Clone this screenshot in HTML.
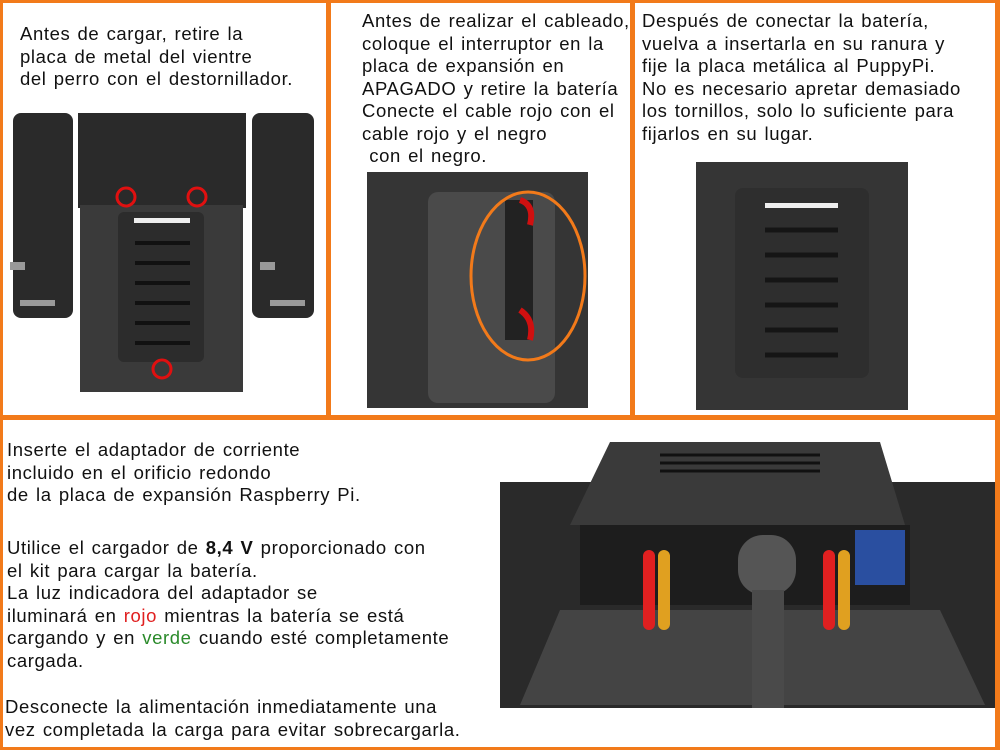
<!DOCTYPE html>
<html><head><meta charset="utf-8"><style>
*{margin:0;padding:0;box-sizing:border-box}
body{width:1000px;height:750px;background:#fff;position:relative;overflow:hidden;font-family:"Liberation Sans",sans-serif;color:#111}
.ln{position:absolute;background:#f27a1a}
.t{position:absolute;font-size:18.5px;line-height:22.5px;white-space:nowrap;letter-spacing:0.6px;word-spacing:1.5px}
</style></head><body>
<div class="ln" style="left:0;top:0;width:1000px;height:3px"></div>
<div class="ln" style="left:0;top:747px;width:1000px;height:3px"></div>
<div class="ln" style="left:0;top:0;width:3px;height:750px"></div>
<div class="ln" style="left:995px;top:0;width:5px;height:750px"></div>
<div class="ln" style="left:0;top:415px;width:1000px;height:5px"></div>
<div class="ln" style="left:326px;top:0;width:5px;height:418px"></div>
<div class="ln" style="left:630px;top:0;width:5px;height:418px"></div>

<div class="t" style="left:20px;top:23px">Antes de cargar, retire la<br>placa de metal del vientre<br>del perro con el destornillador.</div>
<div class="t" style="left:362px;top:10px">Antes de realizar el cableado,<br>coloque el interruptor en la<br>placa de expansión en<br>APAGADO y retire la batería<br>Conecte el cable rojo con el<br>cable rojo y el negro<br>&nbsp;con el negro.</div>
<div class="t" style="left:642px;top:10px">Después de conectar la batería,<br>vuelva a insertarla en su ranura y<br>fije la placa metálica al PuppyPi.<br>No es necesario apretar demasiado<br>los tornillos, solo lo suficiente para<br>fijarlos en su lugar.</div>
<div class="t" style="left:7px;top:439px">Inserte el adaptador de corriente<br>incluido en el orificio redondo<br>de la placa de expansión Raspberry Pi.</div>
<div class="t" style="left:7px;top:537px">Utilice el cargador de <b>8,4 V</b> proporcionado con<br>el kit para cargar la batería.<br>La luz indicadora del adaptador se<br>iluminará en <span style="color:#e02020">rojo</span> mientras la batería se está<br>cargando y en <span style="color:#2a8a2a">verde</span> cuando esté completamente<br>cargada.</div>
<div class="t" style="left:5px;top:696px">Desconecte la alimentación inmediatamente una<br>vez completada la carga para evitar sobrecargarla.</div>

<svg style="position:absolute;left:0;top:0" width="1000" height="750">
<g fill="#2a2a2a">
<rect x="13" y="113" width="60" height="205" rx="8"/>
<rect x="252" y="113" width="62" height="205" rx="8"/>
<rect x="78" y="113" width="168" height="95"/>
<rect x="80" y="205" width="163" height="187" fill="#3a3a3a"/>
<rect x="118" y="212" width="86" height="150" rx="6" fill="#2c2c2c"/>
</g>
<g fill="none" stroke="#111" stroke-width="4">
<line x1="135" y1="243" x2="190" y2="243"/><line x1="135" y1="263" x2="190" y2="263"/><line x1="135" y1="283" x2="190" y2="283"/><line x1="135" y1="303" x2="190" y2="303"/><line x1="135" y1="323" x2="190" y2="323"/><line x1="135" y1="343" x2="190" y2="343"/>
</g>
<rect x="134" y="218" width="56" height="5" fill="#eee"/>
<g fill="none" stroke="#e01010" stroke-width="3"><circle cx="126" cy="197" r="9"/><circle cx="197" cy="197" r="9"/><circle cx="162" cy="369" r="9"/></g>
<g fill="#999"><rect x="10" y="262" width="15" height="8"/><rect x="260" y="262" width="15" height="8"/><rect x="20" y="300" width="35" height="6"/><rect x="270" y="300" width="35" height="6"/></g>
<rect x="367" y="172" width="221" height="236" fill="#353535"/>
<rect x="428" y="192" width="127" height="211" rx="10" fill="#4a4a4a"/>
<rect x="505" y="200" width="28" height="140" fill="#222"/>
<path d="M520 200 q15 5 10 25 M520 310 q15 10 10 30" stroke="#d01010" stroke-width="6" fill="none"/>
<ellipse cx="528" cy="276" rx="57" ry="84" fill="none" stroke="#f27a1a" stroke-width="3"/>
<rect x="696" y="162" width="212" height="248" fill="#353535"/>
<rect x="735" y="188" width="134" height="190" rx="8" fill="#2e2e2e"/>
<rect x="765" y="203" width="73" height="5" fill="#eee"/>
<g stroke="#151515" stroke-width="5"><line x1="765" y1="230" x2="838" y2="230"/><line x1="765" y1="255" x2="838" y2="255"/><line x1="765" y1="280" x2="838" y2="280"/><line x1="765" y1="305" x2="838" y2="305"/><line x1="765" y1="330" x2="838" y2="330"/><line x1="765" y1="355" x2="838" y2="355"/></g>
<rect x="500" y="482" width="495" height="226" fill="#2a2a2a"/>
<path d="M610 442 L880 442 L905 525 L570 525 Z" fill="#3a3a3a"/>
<rect x="580" y="525" width="330" height="80" fill="#1d1d1d"/>
<path d="M520 705 L560 610 L940 610 L985 705 Z" fill="#444"/>
<rect x="643" y="550" width="12" height="80" rx="6" fill="#e02020"/><rect x="658" y="550" width="12" height="80" rx="6" fill="#e0a020"/>
<rect x="823" y="550" width="12" height="80" rx="6" fill="#e02020"/><rect x="838" y="550" width="12" height="80" rx="6" fill="#e0a020"/>
<rect x="855" y="530" width="50" height="55" fill="#2a4fa0"/>
<rect x="738" y="535" width="58" height="60" rx="25" fill="#555"/>
<rect x="752" y="590" width="32" height="118" fill="#4a4a4a"/>
<g stroke="#111" stroke-width="3"><line x1="660" y1="455" x2="820" y2="455"/><line x1="660" y1="463" x2="820" y2="463"/><line x1="660" y1="471" x2="820" y2="471"/></g>
</svg>
</body></html>
